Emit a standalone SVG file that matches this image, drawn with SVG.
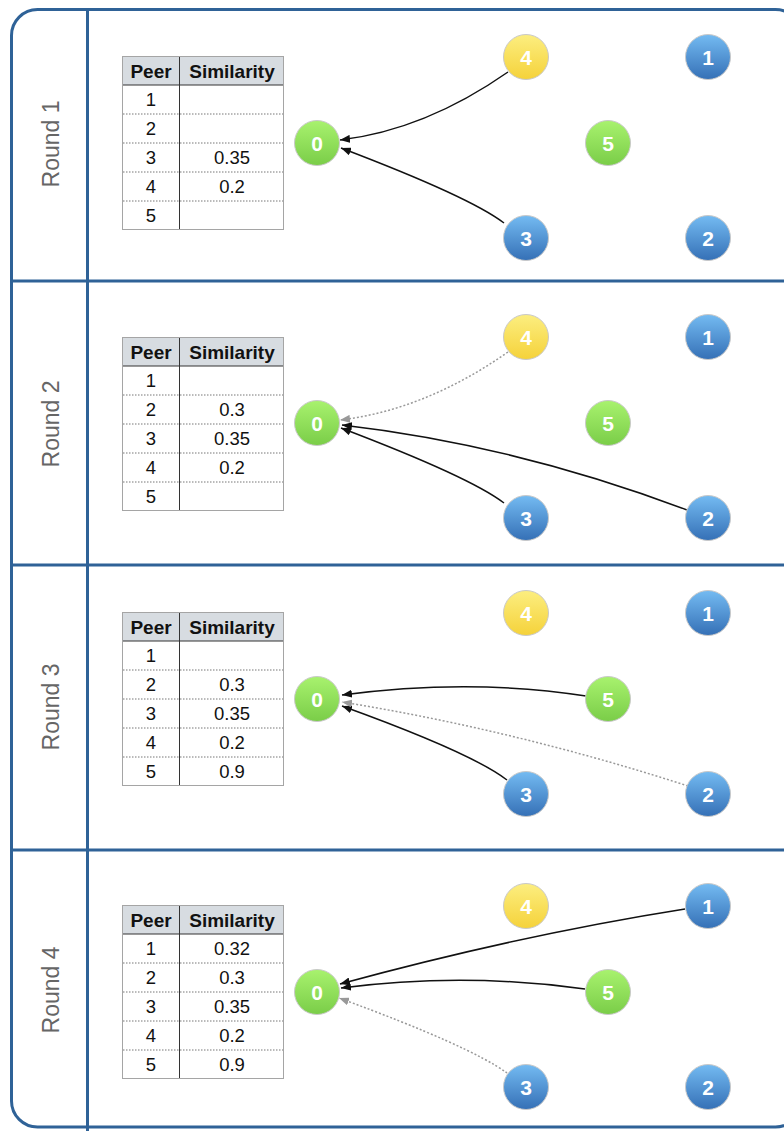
<svg xmlns="http://www.w3.org/2000/svg" xmlns:xlink="http://www.w3.org/1999/xlink" width="784" height="1131" viewBox="0 0 784 1131">
<style>
.frame{fill:none;stroke:#2f6297;stroke-width:3}
.lbl{font-family:"Liberation Sans",Arial,sans-serif;font-size:23px;fill:#666;text-anchor:middle}
.th{font-family:"Liberation Sans",Arial,sans-serif;font-size:19px;font-weight:bold;fill:#111;text-anchor:middle}
.td{font-family:"Liberation Sans",Arial,sans-serif;font-size:18.5px;fill:#111;text-anchor:middle}
.nt{font-family:"Liberation Sans",Arial,sans-serif;font-size:21px;font-weight:bold;fill:#fff;text-anchor:middle}
.edge{fill:none;stroke:#111;stroke-width:1.5;marker-end:url(#ah)}
.dot{fill:none;stroke:#999;stroke-width:1.5;stroke-dasharray:2 2;marker-end:url(#ahg)}
.node{stroke:#c9c9c9;stroke-width:1}
.g{fill:url(#gGreen)}
.y{fill:url(#gYellow)}
.b{fill:url(#gBlue)}
</style>
<defs>
<linearGradient id="gGreen" x1="0" y1="0" x2="0" y2="1"><stop offset="0" stop-color="#a8f26e"/><stop offset="1" stop-color="#7acd48"/></linearGradient>
<linearGradient id="gYellow" x1="0" y1="0" x2="0" y2="1"><stop offset="0" stop-color="#fcee80"/><stop offset="1" stop-color="#f5d23a"/></linearGradient>
<linearGradient id="gBlue" x1="0" y1="0" x2="0" y2="1"><stop offset="0" stop-color="#74bbf2"/><stop offset="1" stop-color="#3570b6"/></linearGradient>
<marker id="ah" viewBox="0 0 10 8" refX="10" refY="4" markerWidth="10" markerHeight="8" markerUnits="userSpaceOnUse" orient="auto"><path d="M0,0 L10,4 L0,8 z" fill="#111"/></marker>
<marker id="ahg" viewBox="0 0 10 8" refX="10" refY="4" markerWidth="10" markerHeight="8" markerUnits="userSpaceOnUse" orient="auto"><path d="M0,0 L10,4 L0,8 z" fill="#999"/></marker>
<g id="tbl">
<rect x="122.5" y="56.5" width="161" height="173" fill="#fff"/>
<rect x="122.5" y="56.5" width="161" height="28.5" fill="#d7dce1"/>
<g stroke="#777" stroke-width="1" stroke-dasharray="1.5 1.5">
<line x1="123" y1="114" x2="283" y2="114"/>
<line x1="123" y1="143" x2="283" y2="143"/>
<line x1="123" y1="172" x2="283" y2="172"/>
<line x1="123" y1="201" x2="283" y2="201"/>
</g>
<line x1="123" y1="85" x2="283" y2="85" stroke="#333" stroke-width="1"/>
<line x1="179.5" y1="57" x2="179.5" y2="229" stroke="#333" stroke-width="1"/>
<rect x="122.5" y="56.5" width="161" height="173" fill="none" stroke="#a5a5a5" stroke-width="1"/>
<text class="th" x="151" y="78">Peer</text>
<text class="th" x="232" y="78">Similarity</text>
<text class="td" x="151" y="106">1</text>
<text class="td" x="151" y="135">2</text>
<text class="td" x="151" y="164">3</text>
<text class="td" x="151" y="193">4</text>
<text class="td" x="151" y="222">5</text>
</g>
</defs>
<rect width="784" height="1131" fill="#fff"/>
<g id="frame">
<rect class="frame" x="11.5" y="9.5" width="790" height="1117.5" rx="26" ry="26"/>
<line class="frame" x1="87.5" y1="9.5" x2="87.5" y2="1131"/>
<line class="frame" x1="11.5" y1="281" x2="784" y2="281"/>
<line class="frame" x1="11.5" y1="565" x2="784" y2="565"/>
<line class="frame" x1="11.5" y1="850" x2="784" y2="850"/>
<text class="lbl" transform="translate(59,144) rotate(-90)">Round 1</text>
<text class="lbl" transform="translate(59,424) rotate(-90)">Round 2</text>
<text class="lbl" transform="translate(59,707) rotate(-90)">Round 3</text>
<text class="lbl" transform="translate(59,990) rotate(-90)">Round 4</text>
</g>
<g id="table1">
<use xlink:href="#tbl"/>
<text class="td" x="232" y="164">0.35</text>
<text class="td" x="232" y="193">0.2</text>
</g>
<g id="table2" transform="translate(0,281)">
<use xlink:href="#tbl"/>
<text class="td" x="232" y="135">0.3</text>
<text class="td" x="232" y="164">0.35</text>
<text class="td" x="232" y="193">0.2</text>
</g>
<g id="table3" transform="translate(0,556)">
<use xlink:href="#tbl"/>
<text class="td" x="232" y="135">0.3</text>
<text class="td" x="232" y="164">0.35</text>
<text class="td" x="232" y="193">0.2</text>
<text class="td" x="232" y="222">0.9</text>
</g>
<g id="table4" transform="translate(0,849)">
<use xlink:href="#tbl"/>
<text class="td" x="232" y="106">0.32</text>
<text class="td" x="232" y="135">0.3</text>
<text class="td" x="232" y="164">0.35</text>
<text class="td" x="232" y="193">0.2</text>
<text class="td" x="232" y="222">0.9</text>
</g>
<g id="connectors">
<path class="edge" d="M508,72 Q425,130 340,140"/>
<path class="edge" d="M504,223 Q470,197 341,148"/>
<path class="dot" d="M508,352 Q425,410 340,420"/>
<path class="edge" d="M504,503 Q470,477 341,428"/>
<path class="edge" d="M687,510 Q515,445 342,425"/>
<path class="edge" d="M586,696 Q470,678 342,695"/>
<path class="edge" d="M507,780 Q472,753 342,706"/>
<path class="dot" d="M688,786 Q515,730 342,702"/>
<path class="edge" d="M685,909 Q520,935 340,984"/>
<path class="edge" d="M585,989 Q463,972 341,988"/>
<path class="dot" d="M507,1073 Q470,1046 339,998"/>
</g>
<g id="r1-n0"><circle class="node g" cx="317" cy="143" r="22.5"/><text class="nt" x="317" y="150.5">0</text></g>
<g id="r1-n4"><circle class="node y" cx="526" cy="57" r="22.5"/><text class="nt" x="526" y="64.5">4</text></g>
<g id="r1-n1"><circle class="node b" cx="708" cy="57" r="22.5"/><text class="nt" x="708" y="64.5">1</text></g>
<g id="r1-n5"><circle class="node g" cx="608" cy="143" r="22.5"/><text class="nt" x="608" y="150.5">5</text></g>
<g id="r1-n3"><circle class="node b" cx="526" cy="238" r="22.5"/><text class="nt" x="526" y="245.5">3</text></g>
<g id="r1-n2"><circle class="node b" cx="708" cy="238" r="22.5"/><text class="nt" x="708" y="245.5">2</text></g>
<g id="r2-n0"><circle class="node g" cx="317" cy="423" r="22.5"/><text class="nt" x="317" y="430.5">0</text></g>
<g id="r2-n4"><circle class="node y" cx="526" cy="337" r="22.5"/><text class="nt" x="526" y="344.5">4</text></g>
<g id="r2-n1"><circle class="node b" cx="708" cy="337" r="22.5"/><text class="nt" x="708" y="344.5">1</text></g>
<g id="r2-n5"><circle class="node g" cx="608" cy="423" r="22.5"/><text class="nt" x="608" y="430.5">5</text></g>
<g id="r2-n3"><circle class="node b" cx="526" cy="518" r="22.5"/><text class="nt" x="526" y="525.5">3</text></g>
<g id="r2-n2"><circle class="node b" cx="708" cy="518" r="22.5"/><text class="nt" x="708" y="525.5">2</text></g>
<g id="r3-n0"><circle class="node g" cx="317" cy="699" r="22.5"/><text class="nt" x="317" y="706.5">0</text></g>
<g id="r3-n4"><circle class="node y" cx="526" cy="613" r="22.5"/><text class="nt" x="526" y="620.5">4</text></g>
<g id="r3-n1"><circle class="node b" cx="708" cy="613" r="22.5"/><text class="nt" x="708" y="620.5">1</text></g>
<g id="r3-n5"><circle class="node g" cx="608" cy="699" r="22.5"/><text class="nt" x="608" y="706.5">5</text></g>
<g id="r3-n3"><circle class="node b" cx="526" cy="794" r="22.5"/><text class="nt" x="526" y="801.5">3</text></g>
<g id="r3-n2"><circle class="node b" cx="708" cy="794" r="22.5"/><text class="nt" x="708" y="801.5">2</text></g>
<g id="r4-n0"><circle class="node g" cx="317" cy="992" r="22.5"/><text class="nt" x="317" y="999.5">0</text></g>
<g id="r4-n4"><circle class="node y" cx="526" cy="906" r="22.5"/><text class="nt" x="526" y="913.5">4</text></g>
<g id="r4-n1"><circle class="node b" cx="708" cy="906" r="22.5"/><text class="nt" x="708" y="913.5">1</text></g>
<g id="r4-n5"><circle class="node g" cx="608" cy="992" r="22.5"/><text class="nt" x="608" y="999.5">5</text></g>
<g id="r4-n3"><circle class="node b" cx="526" cy="1087" r="22.5"/><text class="nt" x="526" y="1094.5">3</text></g>
<g id="r4-n2"><circle class="node b" cx="708" cy="1087" r="22.5"/><text class="nt" x="708" y="1094.5">2</text></g>
</svg>
